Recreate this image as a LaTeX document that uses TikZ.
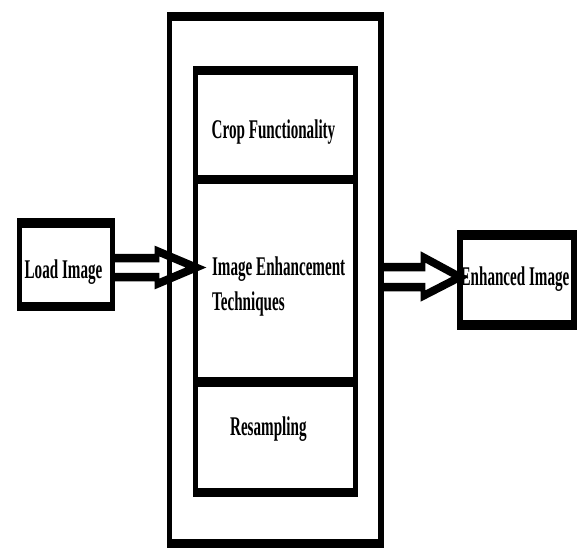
\documentclass[tikz,border=0pt]{standalone}
\usepackage{fontspec}
\setmainfont{Liberation Serif}
\usetikzlibrary{fit,calc}
\begin{document}
\begin{tikzpicture}
\useasboundingbox[fill=white] (0,0) rectangle (577pt,-547pt);
\begin{scope}[transform canvas={xscale=0.56}, x=1.7857pt, y=-1pt,
  box/.style={draw, line width=9.5pt, inner sep=0pt, outer sep=0pt},
  lbl/.style={font=\bfseries\fontsize{27}{35}\selectfont, inner sep=0pt},
  hollow/.style={draw, line width=8.5pt}]
  % boxes
  \node[box, fit={(169.5,16.5) (381,543.5)}] (outer) {};
  \node[box, fit={(195.5,70.5) (355.5,179.5)}] (crop) {};
  \node[box, fit={(195.5,179.5) (355.5,382)}] (enh) {};
  \node[box, fit={(195.5,382) (355.5,492.5)}] (resamp) {};
  \node[box, fit={(19.5,223) (112.5,306.5)}] (load) {};
  \node[box, fit={(460,235) (574,325)}] (result) {};
  % labels
  \node[lbl, anchor=base] (tload) at (63.5,278) {Load Image};
  \node[lbl, anchor=base] (tcrop) at (273.5,138.5) {Crop Functionality};
  \node[lbl, anchor=base west, align=left] (tenh) at (212,310) {Image Enhancement\\Techniques};
  \node[lbl, anchor=base west] (tres) at (230,435) {Resampling};
  \node[lbl, anchor=base] (tout) at (515,285) {Enhanced Image};
  % hollow arrows
  \coordinate (tipL) at (196,267.5);
  \coordinate (tipR) at (460,277);
  \draw[hollow] ($(load.east)+(0,-6.75)$) -| ++(44.5,-7) -- (tipL) -- ++(-39,16.5) |- ($(load.east)+(0,12.25)$);
  \draw[hollow] ($(outer.east)+(0,-13)$) -| ++(42,-10) -- (tipR) -- ++(-37,19) |- ($(outer.east)+(0,7)$);
\end{scope}
\end{tikzpicture}
\end{document}
